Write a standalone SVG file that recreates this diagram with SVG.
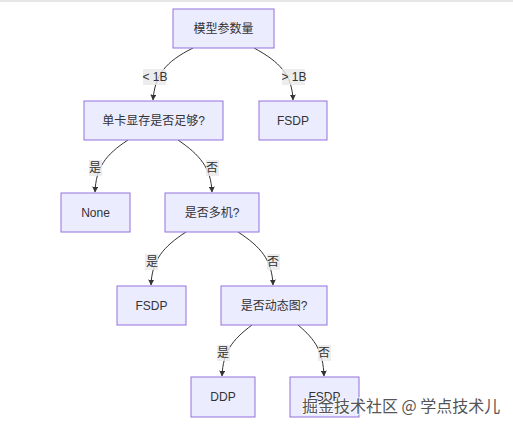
<svg xmlns="http://www.w3.org/2000/svg" width="513" height="427" viewBox="0 0 513 427">
<defs>
<marker id="arr" viewBox="0 0 10 10" refX="9" refY="5" markerWidth="6" markerHeight="6" orient="auto">
<path d="M0,0 L10,5 L0,10 z" fill="#333"/>
</marker>
<style>
.node rect{fill:#ECECFF;stroke:#9370DB;stroke-width:1}
.node text{font-family:"Liberation Sans","Noto Sans CJK SC",sans-serif;font-size:12px;fill:#333;text-anchor:middle;dominant-baseline:central}
.edge{fill:none;stroke:#333;stroke-width:1;marker-end:url(#arr)}
.lbl rect{fill:#e8e8e8;opacity:0.8}
.lbl text{font-family:"Liberation Sans","Noto Sans CJK SC",sans-serif;font-size:12px;fill:#333;text-anchor:middle;dominant-baseline:central}
</style>
</defs>
<rect x="0" y="0" width="513" height="427" fill="#fff"/>
<rect x="0" y="0" width="513" height="2" fill="#e6e6e6"/>
<g id="connectors">
<path class="edge" d="M193,48 C165,62 155,75 153,100"/>
<path class="edge" d="M254,48 C280,62 292,75 293,100"/>
<path class="edge" d="M128,140 C105,155 96,168 95,192"/>
<path class="edge" d="M178,140 C200,155 211,168 212,192"/>
<path class="edge" d="M186,232 C163,247 152,260 151,285"/>
<path class="edge" d="M238,232 C261,247 272,260 273,285"/>
<path class="edge" d="M252,325 C232,340 223,352 222,376"/>
<path class="edge" d="M298,325 C316,340 323,352 324,376"/>
<g class="lbl"><rect x="143" y="69" width="23" height="16"/><text x="155" y="77">&lt; 1B</text></g>
<g class="lbl"><rect x="282" y="69" width="23" height="16"/><text x="294" y="77">&gt; 1B</text></g>
<g class="lbl"><rect x="89" y="160" width="13" height="16"/><text x="95" y="168">是</text></g>
<g class="lbl"><rect x="206" y="160" width="13" height="16"/><text x="212" y="168">否</text></g>
<g class="lbl"><rect x="145" y="254" width="13" height="16"/><text x="152" y="262">是</text></g>
<g class="lbl"><rect x="267" y="254" width="13" height="16"/><text x="273" y="262">否</text></g>
<g class="lbl"><rect x="217" y="345" width="13" height="16"/><text x="223" y="353">是</text></g>
<g class="lbl"><rect x="318" y="345" width="13" height="16"/><text x="324" y="353">否</text></g>
</g>
<g id="n1" class="node"><rect x="173" y="9" width="101" height="39"/><text x="223.5" y="29">模型参数量</text></g>
<g id="n2" class="node"><rect x="84" y="101" width="139" height="39"/><text x="153.5" y="121">单卡显存是否足够?</text></g>
<g id="n3" class="node"><rect x="259" y="101" width="68" height="39"/><text x="293" y="121">FSDP</text></g>
<g id="n4" class="node"><rect x="61" y="193" width="69" height="39"/><text x="95.5" y="213">None</text></g>
<g id="n5" class="node"><rect x="165" y="193" width="94" height="39"/><text x="212" y="213">是否多机?</text></g>
<g id="n6" class="node"><rect x="117" y="286" width="69" height="39"/><text x="151.5" y="306">FSDP</text></g>
<g id="n7" class="node"><rect x="221" y="286" width="106" height="39"/><text x="274" y="306">是否动态图?</text></g>
<g id="n8" class="node"><rect x="191" y="377" width="64" height="40"/><text x="223" y="397">DDP</text></g>
<g id="n9" class="node"><rect x="290" y="377" width="69" height="40"/><text x="324.5" y="397">FSDP</text></g>
<text x="302" y="412" font-family="Noto Sans CJK SC,sans-serif" font-size="16" fill="#555" stroke="#fff" stroke-width="2" paint-order="stroke" stroke-opacity="0.7">掘金技术社区 @ 学点技术儿</text>
</svg>
